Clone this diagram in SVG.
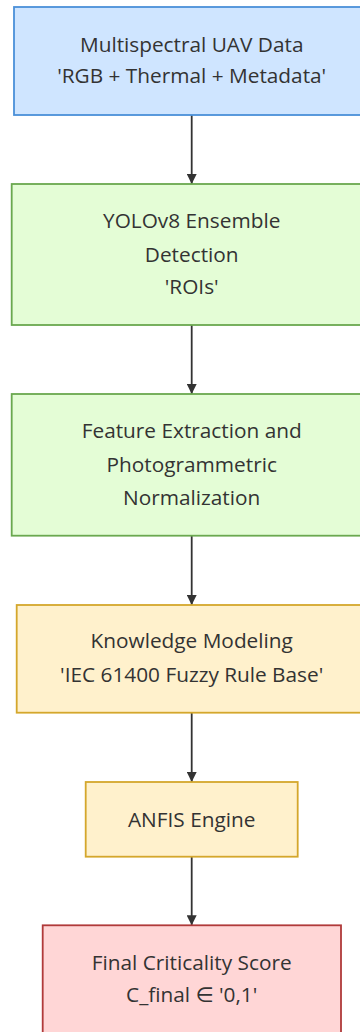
<svg xmlns="http://www.w3.org/2000/svg" width="360" height="1032" viewBox="0 0 360 1032">
  <style>
    .lbl { font-family: "Open Sans", "DejaVu Sans", sans-serif; font-size: 20.8px; fill: #333333; text-anchor: middle; }
    .box { stroke-width: 1.8; }
    .input { fill: #cfe5ff; stroke: #4a90d9; }
    .proc { fill: #e4fdd6; stroke: #6aa84f; }
    .know { fill: #fff1cc; stroke: #d4a72c; }
    .out { fill: #ffd6d6; stroke: #b03a3a; }
    .edge { stroke: #333333; stroke-width: 1.8; fill: none; }
  </style>
  <defs>
    <marker id="arrow" viewBox="0 0 10 10" refX="10" refY="5" markerWidth="10" markerHeight="10" markerUnits="userSpaceOnUse" orient="auto">
      <path d="M0,0 L10,5 L0,10 Z" fill="#333333"/>
    </marker>
  </defs>

  <g id="connectors">
    <line class="edge" x1="191.7" y1="115" x2="191.7" y2="184" marker-end="url(#arrow)"/>
    <line class="edge" x1="191.7" y1="325" x2="191.7" y2="394" marker-end="url(#arrow)"/>
    <line class="edge" x1="191.7" y1="535.7" x2="191.7" y2="605" marker-end="url(#arrow)"/>
    <line class="edge" x1="191.7" y1="712.7" x2="191.7" y2="782" marker-end="url(#arrow)"/>
    <line class="edge" x1="191.7" y1="856.7" x2="191.7" y2="925.3" marker-end="url(#arrow)"/>
  </g>

  <g id="uav-data">
    <rect class="box input" x="14" y="7" width="356" height="108"/>
    <text class="lbl" x="191.7" y="51.7">Multispectral UAV Data</text>
    <text class="lbl" x="191.7" y="83.3">'RGB + Thermal + Metadata'</text>
  </g>

  <g id="yolo-detection">
    <rect class="box proc" x="11.7" y="184" width="360" height="141"/>
    <text class="lbl" x="191.7" y="228.3">YOLOv8 Ensemble</text>
    <text class="lbl" x="191.7" y="261.7">Detection</text>
    <text class="lbl" x="191.7" y="294">'ROIs'</text>
  </g>

  <g id="feature-extraction">
    <rect class="box proc" x="11.7" y="394" width="360" height="141.7"/>
    <text class="lbl" x="191.7" y="438.3">Feature Extraction and</text>
    <text class="lbl" x="191.7" y="471.7">Photogrammetric</text>
    <text class="lbl" x="191.7" y="505">Normalization</text>
  </g>

  <g id="knowledge-modeling">
    <rect class="box know" x="16.7" y="605" width="350" height="107.7"/>
    <text class="lbl" x="191.7" y="648.3">Knowledge Modeling</text>
    <text class="lbl" x="191.7" y="681.7">'IEC 61400 Fuzzy Rule Base'</text>
  </g>

  <g id="anfis-engine">
    <rect class="box know" x="85.7" y="782" width="212" height="74.7"/>
    <text class="lbl" x="191.7" y="826.7">ANFIS Engine</text>
  </g>

  <g id="criticality-score">
    <rect class="box out" x="42.7" y="925.3" width="298.3" height="110"/>
    <text class="lbl" x="191.7" y="970">Final Criticality Score</text>
    <text class="lbl" x="191.7" y="1001.7">C_final ∈ '0,1'</text>
  </g>
</svg>
